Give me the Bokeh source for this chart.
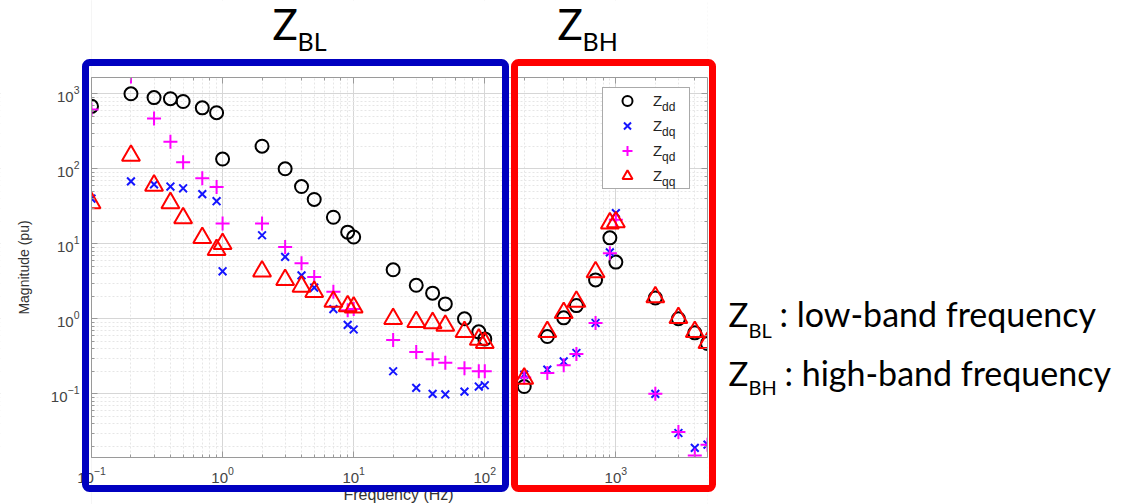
import math
from bokeh.plotting import figure
from bokeh.models import (Range1d, BoxAnnotation, Label, Legend, LegendItem,
                          LogAxis, CustomJSTickFormatter)
from bokeh.embed import file_html
from bokeh.resources import INLINE

# ---------------- data ----------------
freq = [0.1, 0.2, 0.3, 0.4, 0.5, 0.7, 0.9, 1, 2, 3, 4, 5, 7, 9, 10,
        20, 30, 40, 50, 70, 90, 100,
        200, 300, 400, 500, 700, 900, 1000, 2000, 3000, 4000, 5000]

z_dd = [680, 1000, 890, 860, 790, 650, 560, 135, 200, 100, 58, 39, 22.6, 14.3, 12.3,
        4.5, 2.8, 2.2, 1.58, 1.0, 0.67, 0.54,
        0.125, 0.58, 1.03, 1.5, 3.3, 12, 5.7, 1.9, 1.0, 0.65, 0.47]

z_dq = [40, 68, 62, 58, 55, 46, 37, 4.3, 13, 6.7, 3.8, 2.6, 1.35, 0.83, 0.72,
        0.20, 0.12, 0.10, 0.098, 0.107, 0.125, 0.13,
        0.18, 0.21, 0.27, 0.35, 0.88, 7.7, 25.6, 0.1, 0.030, 0.019, 0.021]

z_qd = [620, 1700, 470, 230, 122, 75, 57, 18.7, 18.7, 9.1, 5.5, 3.6, 2.3, 1.3, 1.35,
        0.52, 0.36, 0.29, 0.26, 0.22, 0.20, 0.20,
        0.165, 0.19, 0.24, 0.34, 0.88, 7.5, 21, 0.1, 0.031, 0.015, 0.021]

z_qq = [35, 150, 60, 35, 22, 12, 8.3, 10, 4.3, 3.3, 2.7, 2.3, 1.7, 1.48, 1.42,
        1.0, 0.91, 0.88, 0.81, 0.67, 0.53, 0.48,
        0.16, 0.67, 1.2, 1.7, 4.2, 18.8, 19.5, 1.95, 1.03, 0.67, 0.48]

series_names = ["dd", "dq", "qd", "qq"]
x_limits = (0.1, 5000)
y_limits = (0.01415, 1650)

# ---------------- layout (canvas pixels) ----------------
W, H = 1122, 504
IN_L, IN_R, IN_T, IN_B = 91, 707, 77, 457     # inner axes box

lx0, lx1 = math.log10(x_limits[0]), math.log10(x_limits[1])
ly0, ly1 = math.log10(y_limits[0]), math.log10(y_limits[1])
dx = (IN_R - IN_L) / (lx1 - lx0)
dy = (IN_B - IN_T) / (ly1 - ly0)
x_full = (10 ** (lx0 - IN_L / dx), 10 ** (lx1 + (W - IN_R) / dx))
y_full = (10 ** (ly0 - (H - IN_B) / dy), 10 ** (ly1 + IN_T / dy))

def sx(px):
    return px

def sy(py):
    return H - py

p = figure(width=W, height=H, x_axis_type="log", y_axis_type="log",
           x_range=Range1d(*x_full), y_range=Range1d(*y_full),
           output_backend="svg", toolbar_location=None,
           min_border_left=0, min_border_right=0, min_border_top=0, min_border_bottom=0)
p.background_fill_color = "white"
p.border_fill_color = "white"
p.outline_line_color = None

bottom_ax = p.below[0]
left_ax = p.left[0]
bottom_ax.fixed_location = y_limits[0]
left_ax.fixed_location = x_limits[0]
bottom_ax.bounds = x_limits
left_ax.bounds = y_limits

top_ax = LogAxis(fixed_location=y_limits[1], bounds=x_limits,
                 formatter=CustomJSTickFormatter(code="return ''"))
right_ax = LogAxis(fixed_location=x_limits[1], bounds=y_limits,
                   formatter=CustomJSTickFormatter(code="return ''"))
p.add_layout(top_ax, "above")
p.add_layout(right_ax, "right")

AX_COL = "#9a9a9a"
for ax in (bottom_ax, left_ax, top_ax, right_ax):
    ax.major_tick_in = 6
    ax.major_tick_out = 0
    ax.minor_tick_in = 3
    ax.minor_tick_out = 0
    ax.axis_line_color = AX_COL
    ax.major_tick_line_color = AX_COL
    ax.minor_tick_line_color = AX_COL
    ax.major_label_text_font = "Liberation Sans"
    ax.major_label_text_font_size = "15px"
    ax.major_label_text_color = "#444444"

bottom_ax.major_label_standoff = 9
left_ax.major_label_standoff = 12
left_ax.axis_label = "Magnitude (pu)"
left_ax.axis_label_text_font = "Liberation Sans"
left_ax.axis_label_text_font_style = "normal"
left_ax.axis_label_text_font_size = "14px"
left_ax.axis_label_text_color = "#333333"
left_ax.axis_label_standoff = 16

p.xgrid.bounds = x_limits
p.ygrid.bounds = y_limits
for g in (p.xgrid, p.ygrid):
    g.grid_line_color = "#d6d6d6"
    g.grid_line_width = 1
    g.minor_grid_line_color = "#e6e6e6"
    g.minor_grid_line_dash = "2 2"

# ---------------- data glyphs ----------------
r_dd = p.scatter(freq, z_dd, marker="circle", size=13, fill_color=None,
                 line_color="black", line_width=2)
r_dq = p.scatter(freq, z_dq, marker="x", size=11, line_color="#1515ff", line_width=2)
r_qd = p.scatter(freq, z_qd, marker="cross", size=14, line_color="#ff00ff", line_width=2)
r_qq = p.scatter(freq, z_qq, marker="triangle", size=18, fill_color=None,
                 line_color="#ff0000", line_width=2)
renderers = [r_dd, r_dq, r_qd, r_qq]

# white masks outside the axes box (grid lines and markers stop at the box)
p.quad(left=[x_full[0], x_limits[1], x_limits[0], x_limits[0]],
       right=[x_limits[0], x_full[1], x_limits[1], x_limits[1]],
       bottom=[y_full[0], y_full[0], y_limits[1], y_full[0]],
       top=[y_full[1], y_full[1], y_full[1], y_limits[0]],
       fill_color="white", line_color=None)

# ---------------- legend ("Z" + subscript legend on top) ----------------
LEG_L, LEG_B = 602, 189
row_h = 25
legend = Legend(items=[LegendItem(label="Z", renderers=[r]) for r in renderers],
                location=(sx(LEG_L), sy(LEG_B)), padding=0, spacing=0,
                glyph_width=48, glyph_height=row_h, label_height=row_h, label_width=36,
                label_standoff=2, margin=0,
                label_text_font="Liberation Sans", label_text_font_size="15px",
                label_text_color="#222222",
                border_line_color="#555555", border_line_width=1,
                background_fill_color="white", background_fill_alpha=1)
p.add_layout(legend)
sub_legend = Legend(items=[LegendItem(label=n, renderers=[r])
                           for n, r in zip(series_names, renderers)],
                    location=(sx(662), sy(LEG_B + 5)), padding=0, spacing=0,
                    glyph_width=0, glyph_height=row_h, label_height=row_h, label_width=10,
                    label_standoff=0, margin=0,
                    label_text_font="Liberation Sans", label_text_font_size="12px",
                    label_text_color="#222222",
                    border_line_color=None, background_fill_alpha=0)
p.add_layout(sub_legend)

# ---------------- texts ----------------
def txt(t, px, py, size, font="Lato", color="black", align="left"):
    # py is the wanted visual baseline; Bokeh draws it ~0.4em lower
    p.add_layout(Label(x=sx(px), y=sy(py - 0.4 * size), x_units="screen", y_units="screen",
                       text=t, text_font=font, text_font_size=f"{size}px",
                       text_color=color, text_baseline="alphabetic", text_align=align,
                       level="overlay"))

txt("Frequency (Hz)", 398, 500, 16, font="Liberation Sans", color="#333333",
    align="center")

# ---------------- band boxes ----------------
def band_box(l, r, t, b, color):
    p.add_layout(BoxAnnotation(left=sx(l), right=sx(r), top=sy(t), bottom=sy(b),
                               left_units="screen", right_units="screen",
                               top_units="screen", bottom_units="screen",
                               fill_alpha=0, line_color=color, line_alpha=1,
                               line_width=7, border_radius=4, level="overlay"))

band_box(85, 505, 62, 488, "#0000c0")
band_box(514, 712, 62, 488, "#ff0000")

txt("Z", 272, 40, 42)
txt("BL", 297, 50, 25)
txt("Z", 557, 40, 42)
txt("BH", 582, 50, 25)

txt("Z", 728, 327, 33)
txt("BL", 748, 337, 20)
txt(": low-band frequency", 779, 327, 34)
txt("Z", 728, 386, 33)
txt("BH", 748, 394, 20)
txt(": high-band frequency", 784, 386, 34)

open("out.html", "w").write(file_html(p, INLINE))
